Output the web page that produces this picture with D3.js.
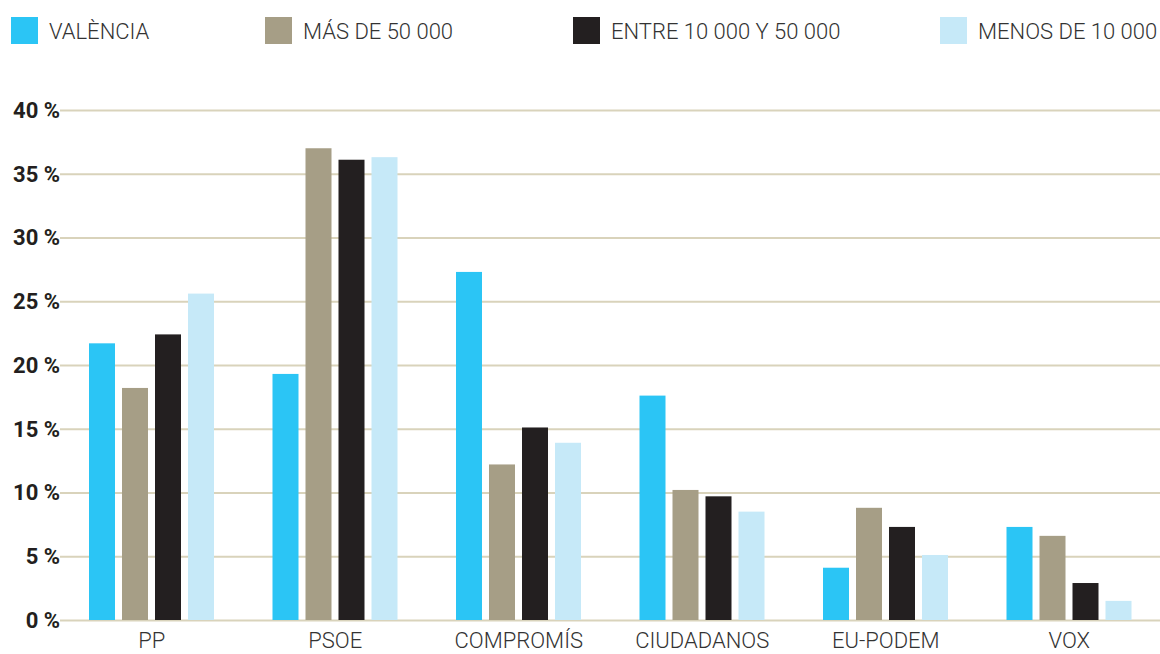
<!DOCTYPE html>
<html lang="es">
<head>
	<meta charset="UTF-8">
	<title>Voto por tamaño de municipio</title>
	<script src="https://cdn.jsdelivr.net/npm/d3@7/dist/d3.min.js"></script>
	<style>
		html, body{
			margin: 0;
			padding: 0;
			background: #fff;
		}
		svg{
			display: block;
			font-family: Roboto, "Noto Sans", sans-serif;
		}
		.grid line{
			stroke: #d9d3bb;
			stroke-width: 2;
		}
		.grid .domain{ display: none; }
	</style>
</head>
<body>
	<div class="chart"></div>
	<script>
		var parties = ['PP', 'PSOE', 'COMPROMÍS', 'CIUDADANOS', 'EU-PODEM', 'VOX'];
		var series = ['VALÈNCIA', 'MÁS DE 50 000', 'ENTRE 10 000 Y 50 000', 'MENOS DE 10 000'];
		var colors = ['#2bc5f5', '#a69e86', '#231f20', '#c6e9f8'];

		// % de voto por partido, una lista por serie
		var valencia = [21.7, 19.3, 27.3, 17.6, 4.1, 7.3];
		var mas50 = [18.2, 37.0, 12.2, 10.2, 8.8, 6.6];
		var entre = [22.4, 36.1, 15.1, 9.7, 7.3, 2.9];
		var menos10 = [25.6, 36.3, 13.9, 8.5, 5.1, 1.5];

		var yTicks = [0, 5, 10, 15, 20, 25, 30, 35, 40];

		var values = [valencia, mas50, entre, menos10];
		var dataset = parties.map(function(p, i){
			return {
				party: p,
				vals: series.map(function(s, j){ return { key: s, value: values[j][i], idx: j }; })
			};
		});

		var width = 1160;
		var height = 654;
		var padding = { top: 110, right: 0, bottom: 34, left: 60 };

		var svg = d3.select('.chart')
					.append('svg')
					.attr('width', width)
					.attr('height', height);

		var x0 = d3.scaleBand()
					.domain(parties)
					.range([padding.left, width + 1]);
		var x1 = d3.scaleBand()
					.domain(series)
					.range([29, 154])
					.paddingInner(7 / 33);
		var yScale = d3.scaleLinear()
					.domain([0, 40])
					.range([height - padding.bottom, padding.top]);

		// grid
		var yAxis = d3.axisLeft(yScale)
					.tickValues(yTicks)
					.tickSize(-(width - padding.left))
					.tickFormat('');
		svg.append('g')
			.attr('class', 'grid')
			.attr('transform', 'translate(' + padding.left + ',0)')
			.call(yAxis);

		// y labels
		svg.append('g')
			.selectAll('text')
			.data(yTicks)
			.enter()
			.append('text')
			.attr('x', padding.left)
			.attr('y', function(d){ return yScale(d); })
			.attr('dy', '0.36em')
			.attr('text-anchor', 'end')
			.attr('font-size', 22)
			.attr('font-weight', 700)
			.attr('fill', '#231f20')
			.text(function(d){ return d + ' %'; });

		// bars
		var groups = svg.append('g')
			.selectAll('g')
			.data(dataset)
			.enter()
			.append('g')
			.attr('transform', function(d){ return 'translate(' + x0(d.party) + ',0)'; });

		groups.selectAll('rect')
			.data(function(d){ return d.vals; })
			.enter()
			.append('rect')
			.attr('x', function(d){ return x1(d.key); })
			.attr('width', x1.bandwidth())
			.attr('y', function(d){ return yScale(d.value); })
			.attr('height', function(d){ return yScale(0) - yScale(d.value); })
			.attr('fill', function(d){ return colors[d.idx]; });

		// x labels
		var xAxis = d3.axisBottom(x0).tickSize(0).tickPadding(0);
		var gx = svg.append('g')
			.attr('transform', 'translate(0,' + (yScale(0)) + ')')
			.call(xAxis);
		gx.select('.domain').remove();
		gx.selectAll('text')
			.attr('y', 28)
			.attr('dy', 0)
			.attr('font-size', 22)
			.attr('font-weight', 300)
			.attr('font-family', 'Roboto, sans-serif')
			.attr('fill', '#333');

		// legend
		var legendX = [11, 265, 573, 940];
		var legend = svg.append('g')
			.selectAll('g')
			.data(series)
			.enter()
			.append('g')
			.attr('transform', function(d, i){ return 'translate(' + legendX[i] + ',17)'; });
		legend.append('rect')
			.attr('width', 27)
			.attr('height', 27)
			.attr('fill', function(d, i){ return colors[i]; });
		legend.append('text')
			.attr('x', 38)
			.attr('y', 22)
			.attr('font-size', 22)
			.attr('font-weight', 300)
			.attr('fill', '#333')
			.text(function(d){ return d; });
	</script>
</body>
</html>
